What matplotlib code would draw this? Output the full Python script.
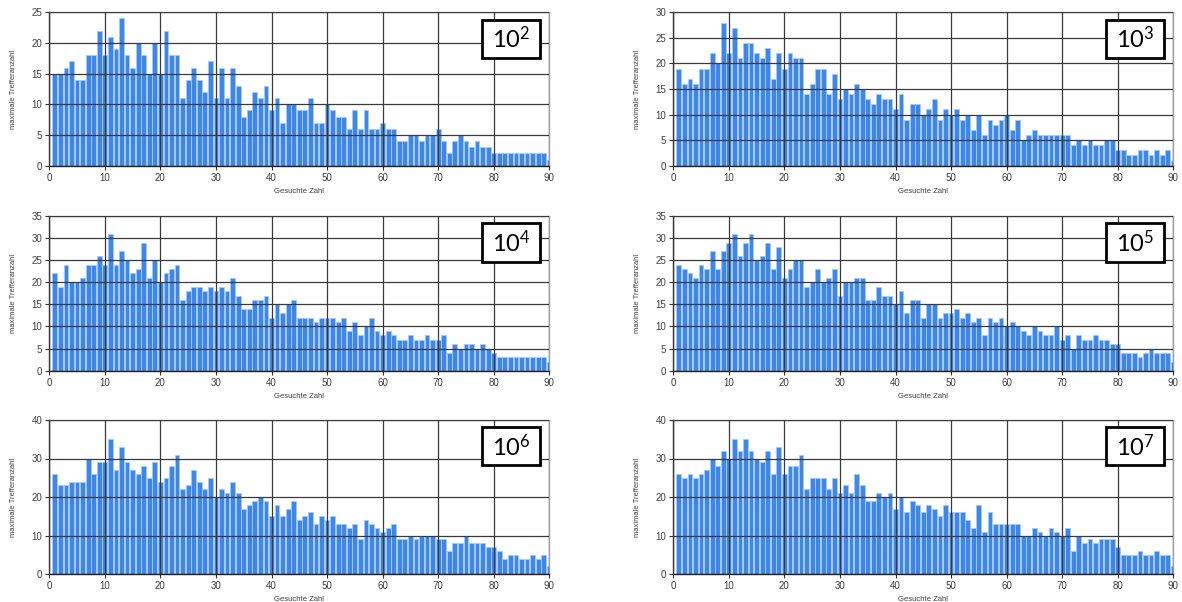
import matplotlib
matplotlib.use("Agg")
import matplotlib.pyplot as plt
from matplotlib.patches import Rectangle
import numpy as np

plt.rcParams['font.family'] = ['Liberation Sans', 'DejaVu Sans']
plt.rcParams['mathtext.default'] = 'regular'

x_numbers = list(range(1, 91))

vals_e2 = [15, 15, 16, 17, 14, 14, 18, 18, 22, 18, 21, 19, 24, 18, 16, 20, 18, 15, 20, 15,
           22, 18, 18, 11, 14, 16, 14, 12, 17, 11, 16, 11, 16, 13, 8, 9, 12, 11, 13, 9,
           11, 7, 10, 10, 9, 9, 11, 7, 7, 10, 9, 8, 8, 6, 9, 6, 9, 6, 6, 7,
           6, 6, 4, 4, 5, 5, 4, 5, 5, 6, 4, 2, 4, 5, 4, 3, 4, 3, 3, 2,
           2, 2, 2, 2, 2, 2, 2, 2, 2, 1]
vals_e3 = [19, 16, 17, 16, 19, 19, 22, 20, 28, 22, 27, 21, 24, 24, 22, 21, 23, 17, 22, 19,
           22, 21, 21, 14, 16, 19, 19, 14, 18, 13, 15, 14, 16, 15, 13, 12, 14, 13, 13, 11,
           14, 9, 12, 12, 10, 11, 13, 9, 11, 10, 11, 9, 10, 7, 10, 6, 9, 8, 9, 10,
           7, 9, 5, 6, 7, 6, 6, 6, 6, 6, 6, 4, 5, 4, 5, 4, 4, 5, 5, 3,
           3, 2, 2, 3, 3, 2, 3, 2, 3, 1]
vals_e4 = [22, 19, 24, 20, 20, 21, 24, 24, 26, 24, 31, 24, 27, 25, 22, 23, 29, 21, 25, 20,
           22, 23, 24, 16, 18, 19, 19, 18, 19, 18, 19, 18, 21, 17, 14, 14, 16, 16, 17, 12,
           15, 13, 15, 16, 12, 12, 12, 11, 12, 12, 12, 11, 12, 9, 11, 8, 10, 12, 9, 8,
           9, 8, 7, 7, 8, 7, 7, 8, 7, 7, 8, 4, 6, 5, 6, 6, 5, 6, 5, 4,
           3, 3, 3, 3, 3, 3, 3, 3, 3, 2]
vals_e5 = [24, 23, 22, 21, 24, 23, 27, 23, 27, 29, 31, 26, 29, 31, 25, 26, 29, 23, 28, 21,
           23, 25, 25, 19, 20, 23, 20, 21, 23, 17, 20, 20, 21, 21, 16, 16, 19, 17, 17, 15,
           18, 13, 16, 16, 12, 15, 15, 12, 13, 13, 14, 12, 13, 11, 12, 8, 12, 11, 12, 10,
           11, 10, 9, 8, 10, 9, 8, 8, 10, 7, 8, 5, 8, 7, 7, 8, 7, 7, 6, 6,
           4, 4, 4, 3, 4, 5, 4, 4, 4, 2]
vals_e6 = [26, 23, 23, 24, 24, 24, 30, 26, 29, 29, 35, 27, 33, 29, 27, 26, 28, 25, 29, 24,
           25, 28, 31, 22, 23, 27, 24, 22, 25, 20, 22, 21, 24, 21, 17, 18, 19, 20, 19, 15,
           18, 15, 17, 19, 14, 15, 16, 13, 15, 14, 15, 13, 13, 12, 13, 9, 14, 13, 12, 11,
           12, 13, 9, 9, 10, 9, 10, 10, 10, 9, 9, 6, 8, 8, 10, 8, 8, 8, 7, 7,
           6, 4, 5, 5, 4, 4, 5, 4, 5, 2]
vals_e7 = [26, 25, 26, 25, 26, 27, 30, 28, 32, 30, 35, 32, 35, 32, 30, 29, 32, 26, 33, 26,
           28, 28, 31, 22, 25, 25, 25, 22, 25, 21, 23, 21, 26, 23, 19, 19, 21, 20, 21, 17,
           20, 16, 19, 18, 16, 18, 17, 15, 18, 16, 16, 16, 14, 12, 18, 11, 16, 13, 13, 13,
           13, 13, 10, 10, 12, 11, 10, 12, 11, 10, 12, 6, 10, 8, 9, 8, 9, 9, 9, 7,
           5, 5, 5, 6, 5, 5, 6, 5, 5, 2]

panel_series = [vals_e2, vals_e3, vals_e4, vals_e5, vals_e6, vals_e7]
panel_labels = ['2', '3', '4', '5', '6', '7']
panel_ymax = [25, 30, 35, 35, 40, 40]
panel_ystep = [5, 5, 5, 5, 10, 10]

x_label = 'Gesuchte Zahl'
y_label = 'maximale Trefferanzahl'

fig = plt.figure(figsize=(11.82, 6.02), dpi=100)

W, H = 1182.0, 602.0
col_left = [49.3, 673.3]
ax_w = 500.0
rows = [(12.3, 165.7), (216.0, 370.7), (420.0, 574.0)]

bar_color = '#3d87ea'
edge_color = '#a9c9f3'
grid_color = '#3a3a3a'

for i, vals in enumerate(panel_series):
    r, c = divmod(i, 2)
    top, bot = rows[r]
    ax = fig.add_axes([col_left[c] / W, 1 - bot / H, ax_w / W, (bot - top) / H])
    ax.bar(x_numbers, vals, width=0.86, color=bar_color, edgecolor=edge_color,
           linewidth=0.6, zorder=1)
    ax.set_xlim(0, 90)
    ax.set_ylim(0, panel_ymax[i])
    ax.set_xticks(np.arange(0, 91, 10))
    ax.set_yticks(np.arange(0, panel_ymax[i] + 1, panel_ystep[i]))
    ax.grid(True, color=grid_color, linewidth=0.9, zorder=2)
    ax.set_axisbelow(False)
    ax.tick_params(axis='both', labelsize=7, colors='#333333', length=3, width=0.8,
                   pad=2, labelcolor='#404040')
    for side in ['left', 'bottom']:
        ax.spines[side].set_color('#222222')
        ax.spines[side].set_linewidth(1.0)
    for side in ['top', 'right']:
        ax.spines[side].set_color('#a0a0a0')
        ax.spines[side].set_linewidth(1.0)
    ax.text(-0.072, 0.5, y_label, rotation=90, ha='center', va='center',
            fontsize=5.5, color='#404040', transform=ax.transAxes)
    ax.text(0.5, -0.165, x_label, ha='center', va='center',
            fontsize=5.5, color='#404040', transform=ax.transAxes)
    rect = Rectangle((0.866, 0.705), 0.116, 0.247, transform=ax.transAxes,
                     facecolor='white', edgecolor='black', linewidth=2.0, zorder=5,
                     clip_on=False)
    ax.add_patch(rect)
    ax.text(0.924, 0.83, r'$10^{%s}$' % panel_labels[i], ha='center', va='center',
            fontsize=17, family=['Lato', 'DejaVu Sans'], color='black',
            transform=ax.transAxes, zorder=6)

fig.savefig('out.png', dpi=100)
